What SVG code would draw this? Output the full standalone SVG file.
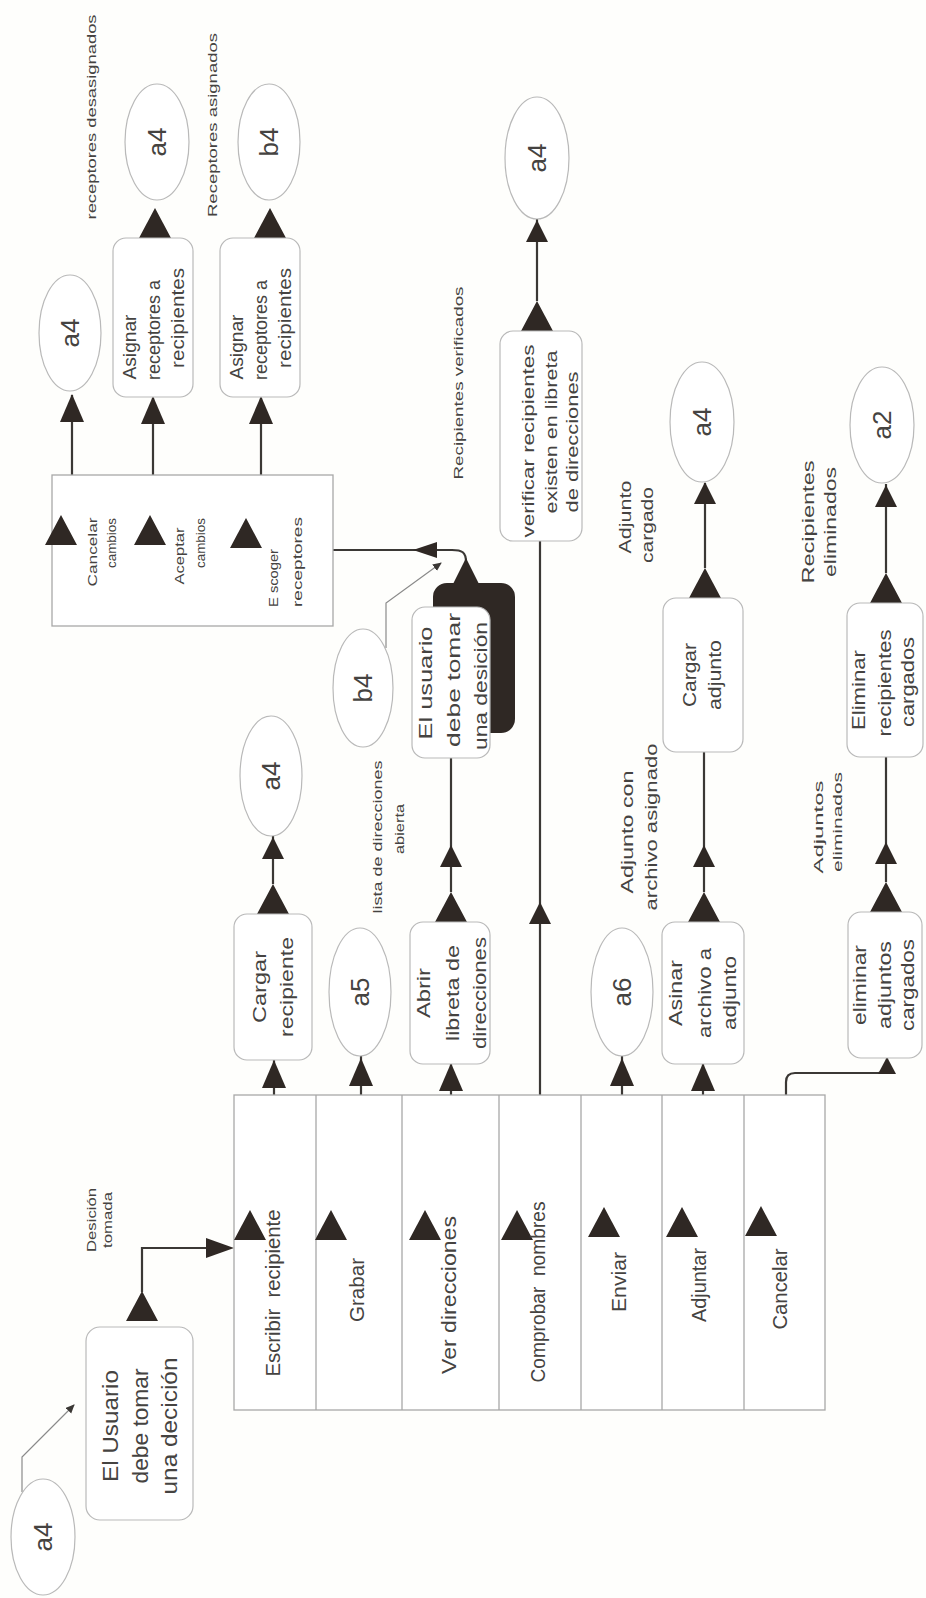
<svg xmlns="http://www.w3.org/2000/svg" xmlns:xlink="http://www.w3.org/1999/xlink" width="926" height="1598" viewBox="0 0 926 1598">
<style>
text{font-family:"Liberation Sans",Arial,sans-serif;fill:#454341;text-anchor:middle}
.tbl{font-size:21px}
.nd{font-size:18px}
.ndb{font-size:22px}
.el{font-size:26px}
.lb{font-size:16px}
.sm{font-size:13.5px}
.xs{font-size:12px}
.node{fill:#fff;stroke:#b9b9b9;stroke-width:1.2}
.tab{fill:#fff;stroke:#a8a8a8;stroke-width:1.3}
.ln{fill:none;stroke:#3b3835;stroke-width:2.2}
.thin{fill:none;stroke:#8a8a8a;stroke-width:1.2}
.tri{fill:#2f2824}
</style>
<defs>
<path id="tb" d="M-16,0 L0,-30 L16,0 Z"/>
<path id="tm" d="M-12,0 L0,-28 L12,0 Z"/>
<path id="ts" d="M-11,0 L0,-22 L11,0 Z"/>
<path id="tx" d="M-9,0 L0,-17 L9,0 Z"/>
<marker id="sa" markerWidth="10" markerHeight="10" refX="8" refY="4" orient="auto" markerUnits="userSpaceOnUse">
<path d="M0,0 L9,4 L0,8 Z" fill="#3b3835"/>
</marker>
</defs>
<rect width="926" height="1598" fill="#fefefc"/>

<!-- connectors -->
<g id="connectors">
<path class="thin" d="M22,1492 V1457 L74,1405" marker-end="url(#sa)"/>
<use href="#tb" class="tri" transform="translate(142,1321)"/>
<path class="ln" d="M142,1292 V1248 H210"/>
<polygon class="tri" points="206,1238 234,1248 206,1258"/>
<path class="ln" d="M274,1095 V1060"/>
<use href="#tm" class="tri" transform="translate(274,1088)"/>
<use href="#tb" class="tri" transform="translate(273,914)"/>
<path class="ln" d="M273,884 V836"/>
<use href="#ts" class="tri" transform="translate(273,859)"/>
<path class="ln" d="M361,1095 V1056"/>
<use href="#tm" class="tri" transform="translate(361,1086)"/>
<path class="ln" d="M451,1095 V1064"/>
<use href="#tm" class="tri" transform="translate(451,1091)"/>
<use href="#tb" class="tri" transform="translate(451,922)"/>
<path class="ln" d="M451,892 V758"/>
<use href="#ts" class="tri" transform="translate(451,867)"/>
<path class="ln" d="M540,1095 V541"/>
<use href="#ts" class="tri" transform="translate(540,924)"/>
<use href="#tb" class="tri" transform="translate(537,331)"/>
<path class="ln" d="M537,301 V219"/>
<use href="#ts" class="tri" transform="translate(537,242)"/>
<path class="ln" d="M622,1095 V1056"/>
<use href="#tm" class="tri" transform="translate(622,1086)"/>
<path class="ln" d="M703,1095 V1064"/>
<use href="#tm" class="tri" transform="translate(703,1091)"/>
<use href="#tb" class="tri" transform="translate(704,922)"/>
<path class="ln" d="M704,892 V752"/>
<use href="#ts" class="tri" transform="translate(704,867)"/>
<use href="#tb" class="tri" transform="translate(705,598)"/>
<path class="ln" d="M705,568 V483"/>
<use href="#ts" class="tri" transform="translate(705,504)"/>
<path class="ln" d="M786,1095 V1082 Q786,1073 795,1073 H878 Q887,1073 887,1064 V1058"/>
<use href="#tx" class="tri" transform="translate(887,1074)"/>
<use href="#tb" class="tri" transform="translate(886,912)"/>
<path class="ln" d="M886,882 V757"/>
<use href="#ts" class="tri" transform="translate(886,864)"/>
<use href="#tb" class="tri" transform="translate(886,603)"/>
<path class="ln" d="M886,573 V484"/>
<use href="#ts" class="tri" transform="translate(886,507)"/>
<path class="ln" d="M72,475 V395 M153,475 V398 M261,475 V398"/>
<use href="#tm" class="tri" transform="translate(72,422)"/>
<use href="#tm" class="tri" transform="translate(153,424)"/>
<use href="#tm" class="tri" transform="translate(261,424)"/>
<use href="#tb" class="tri" transform="translate(155,238)"/>
<use href="#tb" class="tri" transform="translate(270,238)"/>
<path class="ln" d="M466,562 C466,552 462,550 452,550 H333"/>
<polygon class="tri" points="413,550 437,542 437,558"/>
<path class="thin" d="M386,648 V603 L441,563" marker-end="url(#sa)"/>
</g>

<!-- edge labels -->
<g id="labels">
<text class="sm" transform="translate(96,117) rotate(-90)" textLength="205" lengthAdjust="spacingAndGlyphs">receptores desasignados</text>
<text class="sm" transform="translate(217,125) rotate(-90)" textLength="184" lengthAdjust="spacingAndGlyphs">Receptores asignados</text>
<text class="sm" transform="translate(463,383) rotate(-90)" textLength="193" lengthAdjust="spacingAndGlyphs">Recipientes verificados</text>
<text class="sm" transform="translate(382,837) rotate(-90)" textLength="153" lengthAdjust="spacingAndGlyphs">lista de direcciones</text>
<text class="sm" transform="translate(404,829) rotate(-90)" textLength="50" lengthAdjust="spacingAndGlyphs">abierta</text>
<text class="lb" transform="translate(631,517) rotate(-90)" textLength="73" lengthAdjust="spacingAndGlyphs">Adjunto</text>
<text class="lb" transform="translate(653,525) rotate(-90)" textLength="76" lengthAdjust="spacingAndGlyphs">cargado</text>
<text class="lb" transform="translate(814,522) rotate(-90)" textLength="123" lengthAdjust="spacingAndGlyphs">Recipientes</text>
<text class="lb" transform="translate(836,522) rotate(-90)" textLength="110" lengthAdjust="spacingAndGlyphs">eliminados</text>
<text class="lb" transform="translate(633,832) rotate(-90)" textLength="123" lengthAdjust="spacingAndGlyphs">Adjunto con</text>
<text class="lb" transform="translate(657,827) rotate(-90)" textLength="167" lengthAdjust="spacingAndGlyphs">archivo asignado</text>
<text class="sm" transform="translate(823,827) rotate(-90)" textLength="93" lengthAdjust="spacingAndGlyphs">Adjuntos</text>
<text class="sm" transform="translate(842,822) rotate(-90)" textLength="100" lengthAdjust="spacingAndGlyphs">eliminados</text>
<text class="xs" transform="translate(96,1220) rotate(-90)" textLength="64" lengthAdjust="spacingAndGlyphs">Desición</text>
<text class="xs" transform="translate(112,1220) rotate(-90)" textLength="56" lengthAdjust="spacingAndGlyphs">tomada</text>
</g>

<!-- top cluster -->
<g id="a4-top1">
<ellipse class="node" cx="70" cy="333" rx="31" ry="58"/>
<text class="el" transform="translate(79,333) rotate(-90)">a4</text>
</g>
<g id="asignar-1">
<rect class="node" x="113" y="238" width="80" height="159" rx="13"/>
<text class="nd" transform="translate(136,347) rotate(-90)" textLength="65" lengthAdjust="spacingAndGlyphs">Asignar</text>
<text class="nd" transform="translate(160,330) rotate(-90)" textLength="100" lengthAdjust="spacingAndGlyphs">receptores a</text>
<text class="nd" transform="translate(184,318) rotate(-90)" textLength="100" lengthAdjust="spacingAndGlyphs">recipientes</text>
</g>
<g id="a4-top2">
<ellipse class="node" cx="157" cy="142" rx="32" ry="58"/>
<text class="el" transform="translate(166,142) rotate(-90)">a4</text>
</g>
<g id="asignar-2">
<rect class="node" x="220" y="238" width="80" height="159" rx="13"/>
<text class="nd" transform="translate(243,347) rotate(-90)" textLength="65" lengthAdjust="spacingAndGlyphs">Asignar</text>
<text class="nd" transform="translate(267,330) rotate(-90)" textLength="100" lengthAdjust="spacingAndGlyphs">receptores a</text>
<text class="nd" transform="translate(291,318) rotate(-90)" textLength="100" lengthAdjust="spacingAndGlyphs">recipientes</text>
</g>
<g id="b4-top">
<ellipse class="node" cx="269" cy="142" rx="31" ry="58"/>
<text class="el" transform="translate(278,142) rotate(-90)">b4</text>
</g>
<g id="box-cambios">
<rect class="tab" x="52" y="475" width="281" height="151"/>
<use href="#tb" class="tri" transform="translate(61,545)"/>
<use href="#tb" class="tri" transform="translate(150,545)"/>
<use href="#tb" class="tri" transform="translate(246,548)"/>
<text class="sm" transform="translate(97,552) rotate(-90)" textLength="69" lengthAdjust="spacingAndGlyphs">Cancelar</text>
<text class="sm" transform="translate(116,543) rotate(-90)" textLength="50" lengthAdjust="spacingAndGlyphs">cambios</text>
<text class="sm" transform="translate(184,556) rotate(-90)" textLength="57" lengthAdjust="spacingAndGlyphs">Aceptar</text>
<text class="sm" transform="translate(205,543) rotate(-90)" textLength="50" lengthAdjust="spacingAndGlyphs">cambios</text>
<text class="sm" transform="translate(278,578) rotate(-90)" textLength="58" lengthAdjust="spacingAndGlyphs">E scoger</text>
<text class="sm" transform="translate(302,562) rotate(-90)" textLength="90" lengthAdjust="spacingAndGlyphs">receptores</text>
</g>

<!-- middle top -->
<g id="a4-mid">
<ellipse class="node" cx="537" cy="158" rx="32" ry="61"/>
<text class="el" transform="translate(546,158) rotate(-90)">a4</text>
</g>
<g id="verificar">
<rect class="node" x="500" y="331" width="82" height="210" rx="13"/>
<text class="lb" transform="translate(534,441) rotate(-90)" textLength="193" lengthAdjust="spacingAndGlyphs">verificar recipientes</text>
<text class="lb" transform="translate(557,432) rotate(-90)" textLength="163" lengthAdjust="spacingAndGlyphs">existen en libreta</text>
<text class="lb" transform="translate(578,442) rotate(-90)" textLength="141" lengthAdjust="spacingAndGlyphs">de direcciones</text>
</g>

<!-- middle -->
<g id="b4-mid">
<ellipse class="node" cx="363" cy="688" rx="30" ry="59"/>
<text class="el" transform="translate(372,688) rotate(-90)">b4</text>
</g>
<g id="usuario-decision">
<rect x="433" y="583" width="82" height="150" rx="14" fill="#2f2824"/>
<polygon points="449,592 466,558 483,592" fill="#2f2824"/>
<rect class="node" x="412" y="607" width="78" height="151" rx="13"/>
<text class="nd" transform="translate(432,683) rotate(-90)" textLength="113" lengthAdjust="spacingAndGlyphs">El usuario</text>
<text class="nd" transform="translate(460,680) rotate(-90)" textLength="134" lengthAdjust="spacingAndGlyphs">debe tomar</text>
<text class="nd" transform="translate(487,686) rotate(-90)" textLength="128" lengthAdjust="spacingAndGlyphs">una desición</text>
</g>
<g id="a4-cargar">
<ellipse class="node" cx="271" cy="776" rx="31" ry="60"/>
<text class="el" transform="translate(280,776) rotate(-90)">a4</text>
</g>
<g id="cargar-recipiente">
<rect class="node" x="234" y="914" width="78" height="146" rx="13"/>
<text class="nd" transform="translate(266,987) rotate(-90)" textLength="72" lengthAdjust="spacingAndGlyphs">Cargar</text>
<text class="nd" transform="translate(293,987) rotate(-90)" textLength="100" lengthAdjust="spacingAndGlyphs">recipiente</text>
</g>
<g id="a5">
<ellipse class="node" cx="360" cy="992" rx="31" ry="64"/>
<text class="el" transform="translate(369,992) rotate(-90)">a5</text>
</g>
<g id="abrir-libreta">
<rect class="node" x="410" y="922" width="80" height="142" rx="13"/>
<text class="nd" transform="translate(430,993) rotate(-90)" textLength="50" lengthAdjust="spacingAndGlyphs">Abrir</text>
<text class="nd" transform="translate(459,993) rotate(-90)" textLength="96" lengthAdjust="spacingAndGlyphs">libreta de</text>
<text class="nd" transform="translate(486,993) rotate(-90)" textLength="112" lengthAdjust="spacingAndGlyphs">direcciones</text>
</g>
<g id="a6">
<ellipse class="node" cx="622" cy="992" rx="31" ry="64"/>
<text class="el" transform="translate(631,992) rotate(-90)">a6</text>
</g>
<g id="asinar-archivo">
<rect class="node" x="662" y="922" width="82" height="142" rx="13"/>
<text class="nd" transform="translate(682,993) rotate(-90)" textLength="66" lengthAdjust="spacingAndGlyphs">Asinar</text>
<text class="nd" transform="translate(711,993) rotate(-90)" textLength="90" lengthAdjust="spacingAndGlyphs">archivo a</text>
<text class="nd" transform="translate(736,993) rotate(-90)" textLength="74" lengthAdjust="spacingAndGlyphs">adjunto</text>
</g>
<g id="cargar-adjunto">
<rect class="node" x="663" y="598" width="80" height="154" rx="13"/>
<text class="nd" transform="translate(696,675) rotate(-90)" textLength="64" lengthAdjust="spacingAndGlyphs">Cargar</text>
<text class="nd" transform="translate(721,675) rotate(-90)" textLength="70" lengthAdjust="spacingAndGlyphs">adjunto</text>
</g>
<g id="a4-adjunto">
<ellipse class="node" cx="702" cy="422" rx="32" ry="60"/>
<text class="el" transform="translate(711,422) rotate(-90)">a4</text>
</g>
<g id="eliminar-recipientes">
<rect class="node" x="847" y="603" width="76" height="154" rx="13"/>
<text class="nd" transform="translate(865,690) rotate(-90)" textLength="80" lengthAdjust="spacingAndGlyphs">Eliminar</text>
<text class="nd" transform="translate(891,683) rotate(-90)" textLength="107" lengthAdjust="spacingAndGlyphs">recipientes</text>
<text class="nd" transform="translate(914,682) rotate(-90)" textLength="90" lengthAdjust="spacingAndGlyphs">cargados</text>
</g>
<g id="a2">
<ellipse class="node" cx="882" cy="425" rx="32" ry="58"/>
<text class="el" transform="translate(891,425) rotate(-90)">a2</text>
</g>
<g id="eliminar-adjuntos">
<rect class="node" x="848" y="912" width="74" height="146" rx="13"/>
<text class="nd" transform="translate(866,985) rotate(-90)" textLength="80" lengthAdjust="spacingAndGlyphs">eliminar</text>
<text class="nd" transform="translate(891,985) rotate(-90)" textLength="88" lengthAdjust="spacingAndGlyphs">adjuntos</text>
<text class="nd" transform="translate(914,985) rotate(-90)" textLength="92" lengthAdjust="spacingAndGlyphs">cargados</text>
</g>

<!-- bottom-left -->
<g id="a4-bl">
<ellipse class="node" cx="43" cy="1537" rx="32" ry="58"/>
<text class="el" transform="translate(52,1537) rotate(-90)">a4</text>
</g>
<g id="usuario-bl">
<rect class="node" x="86" y="1327" width="107" height="193" rx="14"/>
<text class="ndb" transform="translate(118,1426) rotate(-90)" textLength="112" lengthAdjust="spacingAndGlyphs">El Usuario</text>
<text class="ndb" transform="translate(148,1426) rotate(-90)" textLength="115" lengthAdjust="spacingAndGlyphs">debe tomar</text>
<text class="ndb" transform="translate(177,1426) rotate(-90)" textLength="137" lengthAdjust="spacingAndGlyphs">una decición</text>
</g>

<!-- table -->
<g id="menu-table">
<rect class="tab" x="234" y="1095" width="591" height="315"/>
<path class="tab" d="M316,1095 V1410 M402,1095 V1410 M499,1095 V1410 M581,1095 V1410 M662,1095 V1410 M744,1095 V1410"/>
<use href="#tb" class="tri" transform="translate(250,1240)"/>
<use href="#tb" class="tri" transform="translate(331,1240)"/>
<use href="#tb" class="tri" transform="translate(425,1240)"/>
<use href="#tb" class="tri" transform="translate(517,1240)"/>
<use href="#tb" class="tri" transform="translate(604,1237)"/>
<use href="#tb" class="tri" transform="translate(682,1237)"/>
<use href="#tb" class="tri" transform="translate(761,1236)"/>
<text class="tbl" transform="translate(280,1293) rotate(-90)" textLength="167" lengthAdjust="spacingAndGlyphs">Escribir&#160; recipiente</text>
<text class="tbl" transform="translate(364,1290) rotate(-90)" textLength="64" lengthAdjust="spacingAndGlyphs">Grabar</text>
<text class="tbl" transform="translate(456,1295) rotate(-90)" textLength="158" lengthAdjust="spacingAndGlyphs">Ver direcciones</text>
<text class="tbl" transform="translate(545,1292) rotate(-90)" textLength="181" lengthAdjust="spacingAndGlyphs">Comprobar&#160; nombres</text>
<text class="tbl" transform="translate(626,1282) rotate(-90)" textLength="60" lengthAdjust="spacingAndGlyphs">Enviar</text>
<text class="tbl" transform="translate(706,1285) rotate(-90)" textLength="74" lengthAdjust="spacingAndGlyphs">Adjuntar</text>
<text class="tbl" transform="translate(787,1289) rotate(-90)" textLength="81" lengthAdjust="spacingAndGlyphs">Cancelar</text>
</g>
</svg>
